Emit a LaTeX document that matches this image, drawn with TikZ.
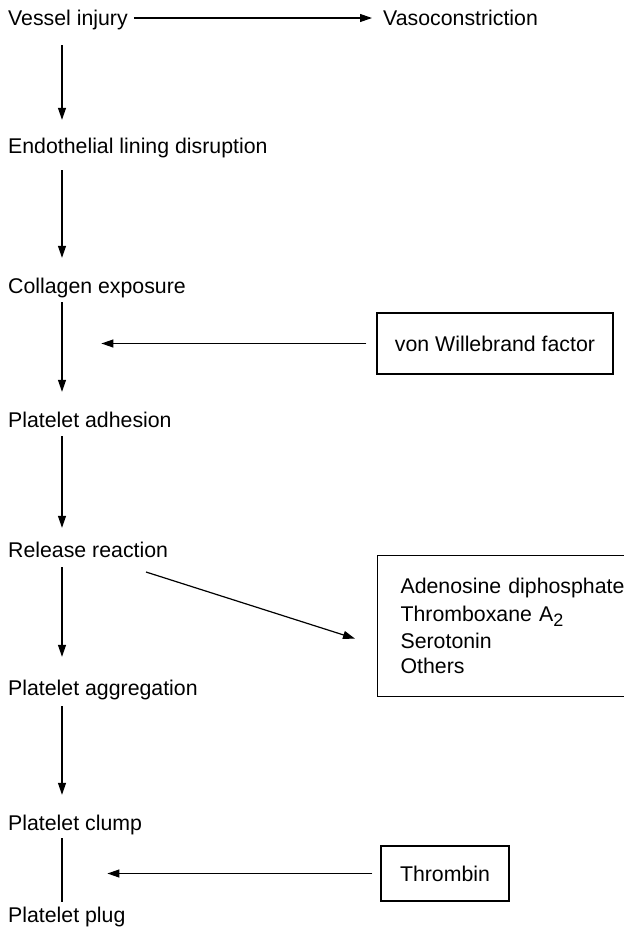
\documentclass[tikz,border=0pt]{standalone}
\usepackage{fontspec}
\setmainfont{Liberation Sans}
\usetikzlibrary{arrows.meta}
\begin{document}
\begin{tikzpicture}[x=1pt,y=-1pt,
  txt/.style={font=\fontsize{21.3}{25}\selectfont},
  lbl/.style={txt, inner sep=0pt, text height=15pt, text depth=0pt, anchor=base west},
  boxed/.style={txt, draw, line width=1.2pt, inner sep=0pt},
  flow/.style={line width=1.2pt, -{Triangle[length=12pt,width=8pt]}},
  plain/.style={line width=1.2pt}]
\useasboundingbox (0,0) rectangle (624,932);
\clip (0,0) rectangle (624,932);

% vertical axis of the main sequence
\coordinate (ax) at (62,0);

% main sequence
\node[lbl] (vessel)  at (8,25.5)  {Vessel injury};
\node[lbl] (vaso)    at (383,25.5) {Vasoconstriction};
\node[lbl] (endo)    at (8,153)   {Endothelial lining disruption};
\node[lbl] (coll)    at (8,293)   {Collagen exposure};
\node[lbl] (adh)     at (8,427)   {Platelet adhesion};
\node[lbl] (rel)     at (8,557)   {Release reaction};
\node[lbl] (agg)     at (8,695)   {Platelet aggregation};
\node[lbl] (clump)   at (8,830)   {Platelet clump};
\node[lbl] (plug)    at (8,922)   {Platelet plug};

% side factors
\node[boxed, minimum width=236pt, minimum height=61pt] (vwf) at (495,343.5) {von Willebrand factor};
\node[boxed, minimum width=128pt, minimum height=55pt] (thr) at (445,873.5) {Thrombin};
\node[boxed, anchor=north west, minimum height=141pt, text width=255pt,
      align=left, inner xsep=23pt] (mediators) at (377,555)
  {\baselineskip=27.3pt
    Adenosine diphosphate\\
    Thromboxane A\raisebox{-0.45ex}{\fontsize{18}{18}\selectfont 2}\\
    Serotonin\\
    Others};

% connectors
\draw[flow] ([xshift=6pt,yshift=7.5pt]vessel.base east) -- ([xshift=-11pt,yshift=7.5pt]vaso.base west);
\draw[flow] ([yshift=-19.5pt]vessel.south -| ax) -- ([yshift=18pt]endo.north -| ax);
\draw[flow] ([yshift=-17pt]endo.south -| ax) -- ([yshift=20pt]coll.north -| ax);
\draw[flow] ([yshift=-9pt]coll.south -| ax) -- ([yshift=20pt]adh.north -| ax);
\draw[flow] ([yshift=-9pt]adh.south -| ax) -- ([yshift=14pt]rel.north -| ax);
\draw[flow] ([yshift=-10pt]rel.south -| ax) -- ([yshift=23pt]agg.north -| ax);
\draw[flow] ([yshift=-11pt]agg.south -| ax) -- ([yshift=20pt]clump.north -| ax);
\draw[plain] ([yshift=-8pt]clump.south -| ax) -- ([yshift=5pt]plug.north -| ax);

\draw[flow] ([xshift=-10pt]vwf.west) -- ++(-265,0) coordinate (vwftip);
\draw[flow] ([xshift=-8pt]thr.west) -- ++(-265,0) coordinate (thrtip);
\draw[flow] ([xshift=138pt,yshift=-15pt]rel.base west) -- ([xshift=-22pt,yshift=-12.5pt]mediators.west);
\end{tikzpicture}
\end{document}
